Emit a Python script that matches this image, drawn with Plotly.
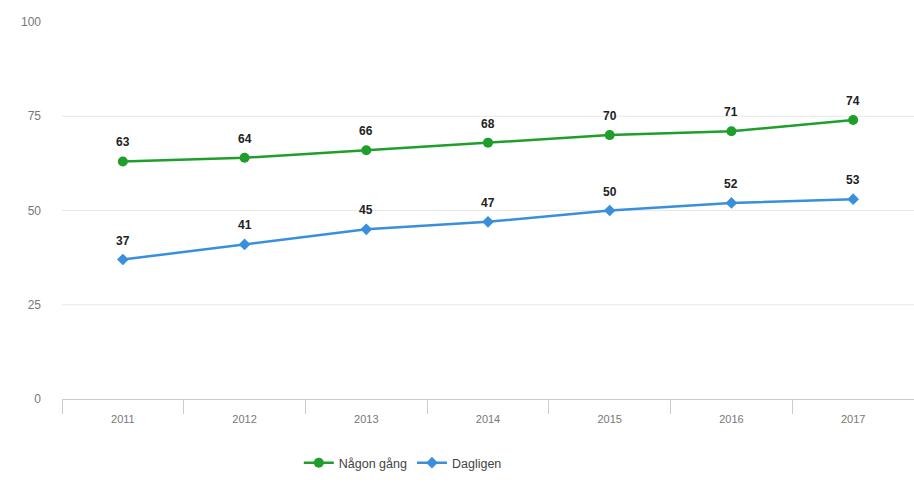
import plotly.graph_objects as go

years = ["2011", "2012", "2013", "2014", "2015", "2016", "2017"]
nagon_gang = [63, 64, 66, 68, 70, 71, 74]
dagligen = [37, 41, 45, 47, 50, 52, 53]
y_ticks = [0, 25, 50, 75, 100]
grid_lines = [25, 50, 75]

green = "#1f9e2b"
blue = "#3a8fdc"

fig = go.Figure()
fig.add_trace(go.Scatter(
    x=years, y=nagon_gang, name="Någon gång",
    mode="lines+markers",
    line=dict(color=green, width=2.5),
    marker=dict(symbol="circle", size=10, color=green),
))
fig.add_trace(go.Scatter(
    x=years, y=dagligen, name="Dagligen",
    mode="lines+markers",
    line=dict(color=blue, width=2.5),
    marker=dict(symbol="diamond", size=9, color=blue),
))

# value labels above each point (x given as category index)
for series in (nagon_gang, dagligen):
    for i, v in enumerate(series):
        fig.add_annotation(
            x=i, y=v, xref="x", yref="y", text=f"<b>{v}</b>", showarrow=False, yshift=19,
            font=dict(family="Liberation Sans, Arial, sans-serif", size=12, color="#222222"),
        )

# horizontal grid lines (none at the top edge)
for g in grid_lines:
    fig.add_shape(type="line", xref="paper", x0=0, x1=1, yref="y", y0=g, y1=g,
                  line=dict(color="#e8e8e8", width=1), layer="below")

fig.update_layout(
    width=914, height=485,
    margin=dict(l=62, r=0, t=22, b=86),
    paper_bgcolor="white", plot_bgcolor="white",
    font=dict(family="Liberation Sans, Arial, sans-serif", size=11, color="#666666"),
    showlegend=True,
    legend=dict(orientation="h", x=0.40, xanchor="center", y=-0.17, yanchor="middle",
                font=dict(size=12.5, color="#444444"), itemwidth=30),
    xaxis=dict(
        type="category", tickson="boundaries", ticks="outside", ticklen=14,
        tickcolor="#cccccc", showline=True, linecolor="#cccccc", linewidth=1,
        showgrid=False, tickfont=dict(size=11, color="#777777"),
        ticklabelstandoff=10,
        range=[-0.5, 6.5],
    ),
    yaxis=dict(
        range=[0, 100], tickvals=y_ticks, showgrid=False,
        zeroline=False, showline=False, tickfont=dict(size=12, color="#777777"),
        ticklabelstandoff=20,
    ),
)

fig.write_html("out.html")
